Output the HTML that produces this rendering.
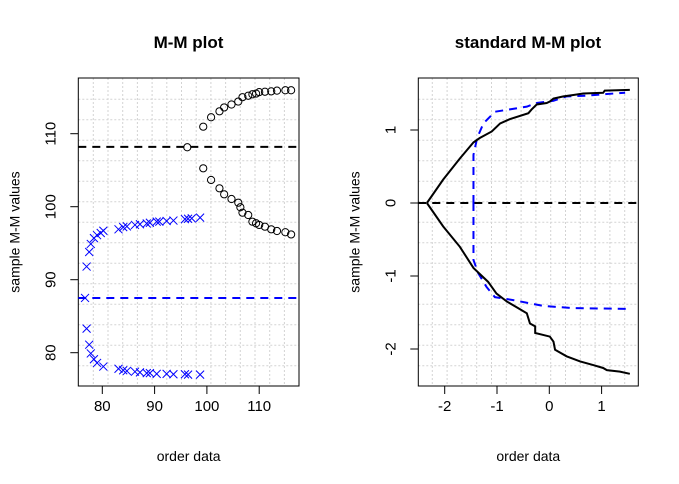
<!DOCTYPE html>
<html><head><meta charset="utf-8"><style>
html,body{margin:0;padding:0;background:#fff;}
svg{display:block;font-family:"Liberation Sans",Arial,sans-serif;}
</style></head><body>
<svg id="c" width="679" height="484" viewBox="0 0 679 484" xmlns="http://www.w3.org/2000/svg"></svg>
<script>
// ---- Left panel data ----
const upCircX=[96.25,99.3,100.8,102.4,103.3,104.7,106.0,106.8,107.9,108.7,109.4,110.0,111.1,112.3,113.4,115.0,116.1];
const upCircY=[108.14,110.96,112.25,113.07,113.6,114.0,114.4,115.0,115.2,115.4,115.5,115.7,115.75,115.8,115.9,115.95,115.95];
const loCircX=[99.3,100.8,102.4,103.3,104.7,106.0,106.4,106.8,107.9,108.7,109.4,110.0,111.1,112.3,113.4,115.0,116.1];
const loCircY=[105.26,103.66,102.52,101.7,101.05,100.55,99.92,99.18,98.86,97.95,97.73,97.5,97.26,96.9,96.67,96.5,96.2];
const upCrossX=[77.0,77.5,77.8,78.4,79.0,79.7,80.2,83.1,84.0,84.7,86.25,87.2,88.5,89.1,90.4,90.9,92.3,93.6,95.8,96.4,97.1,98.7];
const upCrossY=[91.8,93.8,94.9,95.7,96.1,96.4,96.7,96.9,97.2,97.3,97.5,97.6,97.7,97.8,97.95,97.95,98.04,98.1,98.3,98.35,98.4,98.5];
const loCrossX=[77.0,77.5,77.8,78.4,79.0,80.2,83.1,84.0,84.7,86.25,87.2,88.5,89.1,90.4,92.3,93.6,95.8,96.4,98.7];
const loCrossY=[83.3,81.1,79.9,79.1,78.6,78.1,77.8,77.6,77.5,77.4,77.3,77.2,77.2,77.1,77.1,77.05,77.05,77.0,77.0];
const midCross=[76.7,87.5];
const medianBlack=108.2, medianBlue=87.5;
const leftXTicks=[80,90,100,110];
const leftYTicks=[80,90,100,110];
// ---- Right panel data ----
const stdUpX=[-2.34,-2.03,-1.71,-1.45,-1.33,-1.10,-0.94,-0.75,-0.40,-0.34,-0.24,-0.05,0.01,0.08,0.27,0.46,0.65,1.03,1.06,1.54];
const stdUpY=[0,0.32,0.61,0.83,0.89,0.98,1.09,1.15,1.23,1.28,1.35,1.37,1.39,1.43,1.46,1.48,1.50,1.51,1.54,1.55];
const stdLoX=[-2.34,-2.03,-1.71,-1.45,-1.17,-1.01,-0.81,-0.62,-0.43,-0.37,-0.27,-0.27,0.01,0.08,0.11,0.33,0.59,0.84,1.03,1.10,1.35,1.54];
const stdLoY=[0,-0.32,-0.60,-0.89,-1.08,-1.24,-1.35,-1.43,-1.51,-1.65,-1.69,-1.78,-1.83,-1.90,-2.01,-2.10,-2.17,-2.22,-2.26,-2.29,-2.31,-2.34];
const refUpX=[-1.45,-1.45,-1.38,-1.26,-1.04,-0.43,-0.24,0.08,0.33,0.72,1.03,1.45];
const refUpY=[0,0.66,0.89,1.09,1.25,1.32,1.37,1.40,1.46,1.47,1.49,1.51];
const refLoX=[-1.45,-1.45,-1.36,-1.20,-1.04,-0.69,-0.11,0.46,1.47];
const refLoY=[0,-0.78,-0.96,-1.15,-1.29,-1.33,-1.41,-1.44,-1.45];
const rightXTicks=[-2,-1,0,1];
const rightYTicks=[-2,-1,0,1];

const NS="http://www.w3.org/2000/svg";
const svg=document.getElementById('c');
function mk(tag,attrs,parent){const e=document.createElementNS(NS,tag);for(const k in attrs)e.setAttribute(k,attrs[k]);(parent||svg).appendChild(e);return e;}

const lx=v=>102.3+(v-80)*5.23, ly=v=>133.7-(v-110)*7.3;
const rx=v=>549.3+v*52.3, ry=v=>203-v*73;

function panel(name,x0,x1,y0,y1,gx0,gy0,gdx,gdy,title,tcx,xt,xf,yt,yf){
  const g=mk('g',{});
  
  
  for(let x=gx0;x<x1;x+=gdx){const l=mk('line',{x1:x,x2:x,y1:y0,y2:y1,stroke:'#d3d3d3','stroke-dasharray':'2,2','stroke-width':1},g);}
  for(let y=gy0;y<y1;y+=gdy){const l=mk('line',{x1:x0,x2:x1,y1:y,y2:y,stroke:'#d3d3d3','stroke-dasharray':'2,2','stroke-width':1},g);}
  const r=mk('rect',{x:x0,y:y0,width:x1-x0,height:y1-y0,fill:'none',stroke:'#000','stroke-width':1},svg);
  
  xt.forEach(v=>{const p=xf(v);const t=mk('line',{x1:p,x2:p,y1:y1,y2:y1+8,stroke:'#000'});
    const s=mk('text',{x:p,y:y1+25,'text-anchor':'middle','font-size':15});s.textContent=v;});
  yt.forEach(v=>{const p=yf(v);const t=mk('line',{x1:x0-8,x2:x0,y1:p,y2:p,stroke:'#000'});
    const s=mk('text',{x:0,y:0,'text-anchor':'middle','font-size':15,transform:`translate(${x0-28},${p}) rotate(-90)`,dy:5});s.textContent=v;});
  const tt=mk('text',{x:tcx,y:48,'text-anchor':'middle','font-size':17,'font-weight':'bold'});tt.textContent=title;
  const xl=mk('text',{x:(x0+x1)/2,y:461,'text-anchor':'middle','font-size':14});xl.textContent='order data';
  const yl=mk('text',{x:0,y:0,'text-anchor':'middle','font-size':14,transform:`translate(${x0-59},${(y0+y1)/2}) rotate(-90)`});yl.textContent='sample M-M values';
}
panel('left',78.3,299,78,386,93.3,99.3,14.7,20.5,'M-M plot',188.5,leftXTicks,lx,leftYTicks,ly);
panel('right',418.3,638.3,78,386,432.3,99.3,14.8,20.5,'standard M-M plot',528,rightXTicks,rx,rightYTicks,ry);

let m=mk('line',{x1:78.3,x2:299,y1:ly(medianBlack),y2:ly(medianBlack),stroke:'#000','stroke-width':2,'stroke-dasharray':'8,6'});

m=mk('line',{x1:78.3,x2:299,y1:ly(medianBlue),y2:ly(medianBlue),stroke:'#0000ff','stroke-width':2,'stroke-dasharray':'8,6'});

function circles(xs,ys,nm){xs.forEach((x,i)=>{const c=mk('circle',{cx:lx(x),cy:ly(ys[i]),r:3.6,fill:'none',stroke:'#000','stroke-width':1});});}
function crosses(xs,ys,nm){xs.forEach((x,i)=>{const px=lx(x),py=ly(ys[i]),d=4;const p=mk('path',{d:`M${px-d},${py-d}L${px+d},${py+d}M${px-d},${py+d}L${px+d},${py-d}`,stroke:'#0000ff','stroke-width':1,fill:'none'});});}
circles(upCircX,upCircY,'upper-circle-point');
circles(loCircX,loCircY,'lower-circle-point');
crosses(upCrossX,upCrossY,'upper-cross-point');
crosses(loCrossX,loCrossY,'lower-cross-point');
crosses([midCross[0]],[midCross[1]],'median-cross-point');

m=mk('line',{x1:418.3,x2:638.3,y1:ry(0),y2:ry(0),stroke:'#000','stroke-width':2,'stroke-dasharray':'8,6'});

function line(xs,ys,col,dash,nm){const d=xs.map((x,i)=>(i?'L':'M')+rx(x)+','+ry(ys[i])).join('');const p=mk('path',{d:d,stroke:col,'stroke-width':2,fill:'none'});if(dash)p.setAttribute('stroke-dasharray',dash);}
line(refUpX,refUpY,'#0000ff','8,6','reference-upper-curve');
line(refLoX,refLoY,'#0000ff','8,6','reference-lower-curve');
line(stdUpX,stdUpY,'#000',null,'sample-upper-curve');
line(stdLoX,stdLoY,'#000',null,'sample-lower-curve');
</script>
</body></html>
